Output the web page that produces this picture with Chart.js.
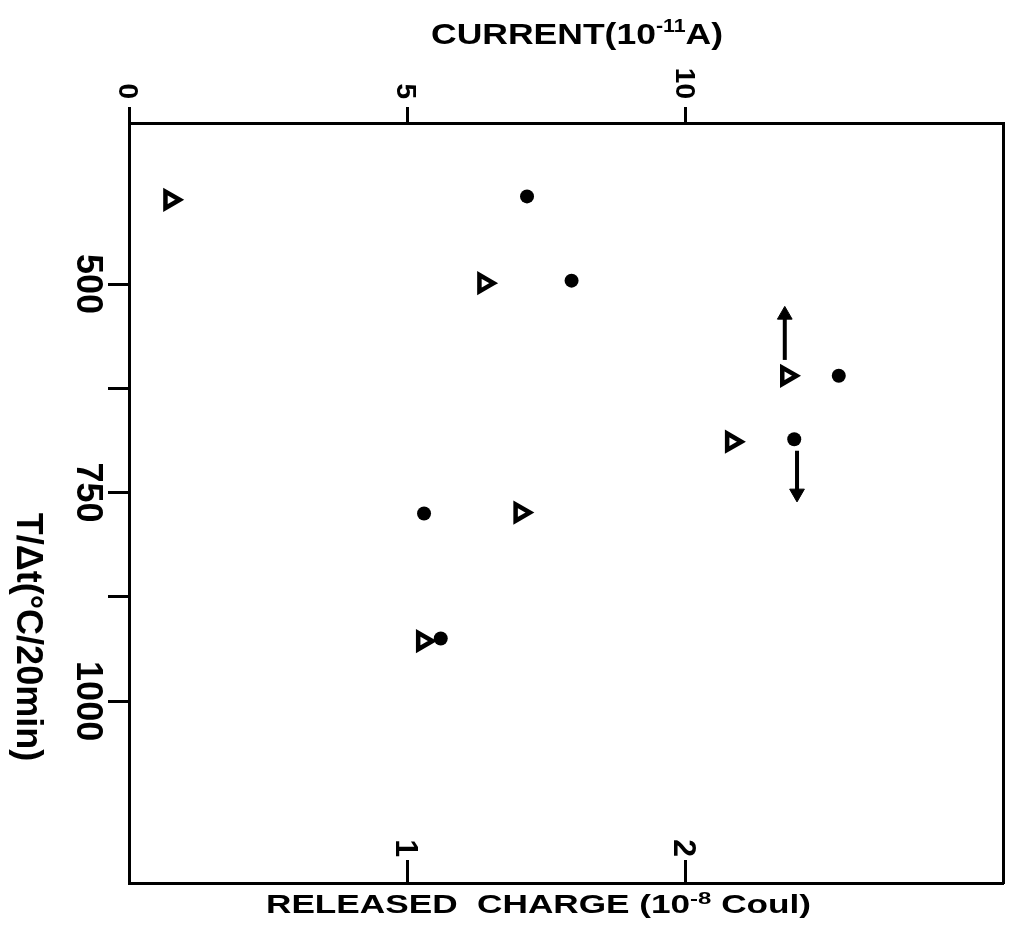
<!DOCTYPE html>
<html>
<head>
<meta charset="utf-8">
<style>
html,body{margin:0;padding:0;background:#fff;}
#wrap{width:1011px;height:934px;position:relative;}
canvas{display:block;}
</style>
<script src="https://cdn.jsdelivr.net/npm/chart.js@4.4.1/dist/chart.umd.min.js"></script>
</head>
<body>
<div id="wrap"><canvas id="c" width="1011" height="934"></canvas></div>
<script>
// ---- data ----
const tempTriangles = [399, 499, 610, 689, 774, 928];      // T/Δt (°C/20min)
const currentValues = [0.74, 6.38, 11.82, 10.83, 7.03, 5.28]; // current (1e-11 A)
const tempDots = [395, 496, 610, 686, 775, 925];           // T/Δt (°C/20min)
const chargeValues = [1.43, 1.59, 2.55, 2.39, 1.06, 1.12];  // released charge (1e-8 Coul)

const upArrowX = [11.78, 11.78];   // current axis
const upArrowY = [591, 537];
const downArrowX = [2.40, 2.40];   // charge axis
const downArrowY = [700, 751];

const yTicks = [500, 625, 750, 875, 1000];
const yTickLabels = ['500', '', '750', '', '1000'];
const currentTicks = [0, 5, 10];
const currentTickLabels = ['0', '5', '10'];
const chargeTicks = [1, 2];
const chargeTickLabels = ['1', '2'];

const yRange = [307, 1218];
const currentRange = [0, 15.7];
const chargeRange = [0, 3.14];

const FONT = '"Liberation Sans", Arial, sans-serif';

function rotText(ctx, text, x, y, font, align) {
  ctx.save();
  ctx.translate(x, y);
  ctx.rotate(Math.PI / 2);
  ctx.font = font;
  ctx.textAlign = align;
  ctx.textBaseline = 'alphabetic';
  ctx.fillText(text, 0, 0);
  ctx.restore();
}

function stretchedText(ctx, parts, left, baseline, targetW) {
  let total = 0;
  parts.forEach(p => { ctx.font = p.font; total += ctx.measureText(p.t).width; });
  const sx = targetW / total;
  ctx.save();
  ctx.translate(left, baseline);
  ctx.scale(sx, 1);
  ctx.textAlign = 'left';
  ctx.textBaseline = 'alphabetic';
  let x = 0;
  parts.forEach(p => {
    ctx.font = p.font;
    ctx.fillText(p.t, x, p.dy || 0);
    x += ctx.measureText(p.t).width;
  });
  ctx.restore();
}

const labelPlugin = {
  id: 'rotatedLabels',
  afterDraw(chart) {
    const ctx = chart.ctx;
    const sY = chart.scales.y, sT = chart.scales.xCurrent, sB = chart.scales.xCharge;
    ctx.save();
    ctx.fillStyle = '#000';
    // left tick labels
    yTicks.forEach((v, i) => {
      if (!yTickLabels[i]) return;
      rotText(ctx, yTickLabels[i], 77, sY.getPixelForValue(v), 'bold 36px ' + FONT, 'center');
    });
    // top tick labels
    const capT = 0.716 * 28;
    currentTicks.forEach((v, i) => {
      rotText(ctx, currentTickLabels[i], sT.getPixelForValue(v) - capT / 2, 99, 'bold 28px ' + FONT, 'right');
    });
    // bottom tick labels (inside)
    const capB = 0.716 * 32;
    chargeTicks.forEach((v, i) => {
      rotText(ctx, chargeTickLabels[i], sB.getPixelForValue(v) - capB / 2, 857, 'bold 32px ' + FONT, 'right');
    });
    // left title
    rotText(ctx, 'T/Δt(°C/20min)', 17, 637, 'bold 36px ' + FONT, 'center');
    // top title
    stretchedText(ctx, [
      {t: 'CURRENT(10', font: 'bold 30px ' + FONT},
      {t: '-11', font: 'bold 18px ' + FONT, dy: -12},
      {t: 'A)', font: 'bold 30px ' + FONT}
    ], 431, 44, 292);
    // bottom title
    stretchedText(ctx, [
      {t: 'RELEASED  CHARGE (10', font: 'bold 25px ' + FONT},
      {t: '-8', font: 'bold 17px ' + FONT, dy: -9},
      {t: ' Coul)', font: 'bold 25px ' + FONT}
    ], 266, 913, 545);
    ctx.restore();
  }
};

const axisBorder = {display: true, color: '#000', width: 3};

new Chart(document.getElementById('c'), {
  type: 'scatter',
  data: {
    datasets: [
      {
        label: 'Current',
        xAxisID: 'xCurrent', yAxisID: 'y',
        data: tempTriangles.map((t, i) => ({x: currentValues[i], y: t})),
        pointStyle: 'triangle', pointRotation: 90, pointRadius: 9.5,
        pointBorderWidth: 4.5, pointBorderColor: '#000', pointBackgroundColor: '#fff'
      },
      {
        label: 'Released charge',
        xAxisID: 'xCharge', yAxisID: 'y',
        data: tempDots.map((t, i) => ({x: chargeValues[i], y: t})),
        pointStyle: 'circle', pointRadius: 7,
        pointBorderWidth: 0, pointBorderColor: '#000', pointBackgroundColor: '#000'
      },
      {
        label: 'up arrow',
        xAxisID: 'xCurrent', yAxisID: 'y',
        showLine: true, borderColor: '#000', borderWidth: 4,
        data: upArrowX.map((x, i) => ({x: x, y: upArrowY[i]})),
        pointStyle: 'triangle', pointRotation: 0, pointRadius: [0, 8.5],
        pointBorderWidth: 1, pointBorderColor: '#000', pointBackgroundColor: '#000'
      },
      {
        label: 'down arrow',
        xAxisID: 'xCharge', yAxisID: 'y',
        showLine: true, borderColor: '#000', borderWidth: 4,
        data: downArrowX.map((x, i) => ({x: x, y: downArrowY[i]})),
        pointStyle: 'triangle', pointRotation: 180, pointRadius: [0, 8.5],
        pointBorderWidth: 1, pointBorderColor: '#000', pointBackgroundColor: '#000'
      }
    ]
  },
  options: {
    responsive: false,
    animation: false,
    devicePixelRatio: 1,
    events: [],
    layout: {autoPadding: false, padding: {left: 0, top: 0, right: 8, bottom: 0}},
    plugins: {legend: {display: false}, tooltip: {enabled: false}},
    scales: {
      y: {
        type: 'linear', position: 'left', reverse: true,
        min: yRange[0], max: yRange[1],
        afterBuildTicks: s => { s.ticks = yTicks.map(v => ({value: v})); },
        afterFit: s => { s.width = 129; },
        ticks: {display: false},
        grid: {drawOnChartArea: false, drawTicks: true, tickLength: 21, tickWidth: 3, tickColor: '#000'},
        border: axisBorder
      },
      yRight: {
        type: 'linear', position: 'right', reverse: true,
        min: yRange[0], max: yRange[1],
        afterFit: s => { s.width = 0; },
        ticks: {display: false},
        grid: {display: false},
        border: axisBorder
      },
      xCurrent: {
        type: 'linear', position: 'top',
        min: currentRange[0], max: currentRange[1],
        afterBuildTicks: s => { s.ticks = currentTicks.map(v => ({value: v})); },
        afterFit: s => { s.height = 123; },
        ticks: {display: false},
        grid: {drawOnChartArea: false, drawTicks: true, tickLength: 16, tickWidth: 3, tickColor: '#000'},
        border: axisBorder
      },
      xCharge: {
        type: 'linear', position: 'bottom',
        min: chargeRange[0], max: chargeRange[1],
        afterBuildTicks: s => { s.ticks = chargeTicks.map(v => ({value: v})); },
        afterFit: s => { s.height = 51; },
        ticks: {display: false},
        grid: {drawOnChartArea: false, drawTicks: true, tickLength: -23, tickWidth: 3, tickColor: '#000'},
        border: axisBorder
      }
    }
  },
  plugins: [labelPlugin]
});
</script>
</body>
</html>
